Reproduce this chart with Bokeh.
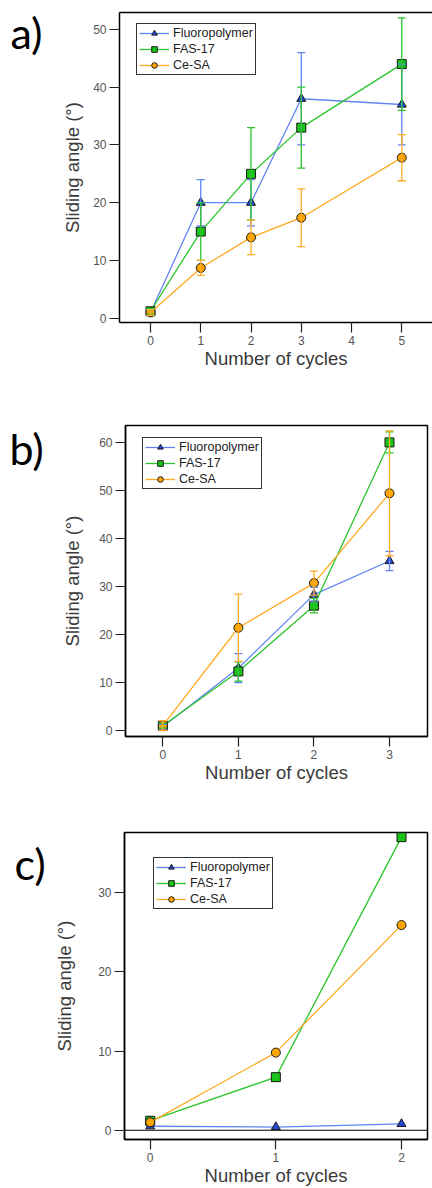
from bokeh.plotting import figure
from bokeh.models import (ColumnDataSource, Whisker, TeeHead, Legend, LegendItem,
                          FixedTicker, LinearAxis, Span, Range1d)
from bokeh.layouts import column, row
from bokeh.embed import file_html
from bokeh.resources import INLINE
from bokeh.core.properties import value

# ---------------- data ----------------
series_names = ["Fluoropolymer", "FAS-17", "Ce-SA"]
panel_tags = ["a)", "b)", "c)"]

a_cycles = [0, 1, 2, 3, 5]
a_fluoro = [1.0, 20.0, 20.0, 38.0, 37.0]
a_fluoro_err = [0.5, 4.0, 4.0, 8.0, 7.0]
a_fas = [1.2, 15.0, 25.0, 33.0, 44.0]
a_fas_err = [0.5, 5.0, 8.0, 7.0, 8.0]
a_cesa = [1.0, 8.7, 14.0, 17.4, 27.8]
a_cesa_err = [0.5, 1.3, 3.0, 5.0, 4.0]
a_xticks = [0, 1, 2, 3, 4, 5]
a_yticks = [0, 10, 20, 30, 40, 50]

b_cycles = [0, 1, 2, 3]
b_fluoro = [0.8, 13.0, 28.3, 35.3]
b_fluoro_err = [0.5, 3.0, 1.5, 2.0]
b_fas = [1.0, 12.3, 26.0, 60.0]
b_fas_err = [0.5, 2.0, 1.5, 2.2]
b_cesa = [1.0, 21.4, 30.7, 49.4]
b_cesa_err = [1.0, 7.0, 2.5, 13.0]
b_xticks = [0, 1, 2, 3]
b_yticks = [0, 10, 20, 30, 40, 50, 60]

c_cycles = [0, 1, 2]
c_fluoro = [0.5, 0.4, 0.8]
c_fas = [1.2, 6.7, 37.0]
c_cesa = [1.0, 9.8, 25.9]
c_xticks = [0, 1, 2]
c_yticks = [0, 10, 20, 30]

# ---------------- styles ----------------
LINE_COLORS = ["#6384f4", "#2cc52c", "#ffaa22"]
FILL_COLORS = ["#2448d0", "#19c419", "#ffa500"]
MARKERS = ["triangle", "square", "circle"]
MSIZES = [9, 9, 9]
AX_FONT = "Liberation Sans"
TAG_W = 50


def tag_figure(tag, height, mb_top, mb_bottom, page_top, page_bottom, tx, ty_page):
    # frame of this narrow figure coincides with the panel's frame (rows align frames);
    # its y range runs in page pixels, top to bottom
    t = figure(width=TAG_W, height=height, output_backend="svg", toolbar_location=None,
               x_range=Range1d(0, TAG_W), y_range=Range1d(page_bottom, page_top),
               min_border_left=0, min_border_right=0,
               min_border_top=mb_top, min_border_bottom=mb_bottom)
    t.axis.visible = False
    t.grid.visible = False
    t.outline_line_color = None
    t.background_fill_color = "white"
    t.border_fill_color = "white"
    t.text(x=[tx], y=[ty_page], text=[tag], text_font=value("Lato"), text_font_size="43px",
           text_color="black", text_baseline="middle", text_align="left")
    return t


def make_panel(xs, ys_list, errs_list, xticks, yticks, xr, yr,
               width, height, mb_left, mb_right, mb_top, mb_bottom,
               legend_loc, ylabel_standoff, outline=True, zero_line=False):
    p = figure(width=width, height=height, output_backend="svg",
               toolbar_location=None, x_range=Range1d(*xr), y_range=Range1d(*yr),
               min_border_left=mb_left, min_border_right=mb_right,
               min_border_top=mb_top, min_border_bottom=mb_bottom)
    p.grid.visible = False
    p.background_fill_color = "white"
    p.border_fill_color = "white"
    if outline:
        p.outline_line_color = "black"
        p.outline_line_width = 1.5
        p.outline_line_alpha = 1.0
    else:
        p.outline_line_color = None

    p.xaxis.ticker = FixedTicker(ticks=xticks)
    p.yaxis.ticker = FixedTicker(ticks=yticks)
    for ax in (p.xaxis[0], p.yaxis[0]):
        ax.axis_line_color = "black"
        ax.axis_line_width = 1.5
        ax.major_tick_line_color = "#222222"
        ax.major_tick_line_width = 1.2
        ax.major_tick_in = 0
        ax.major_tick_out = 10
        ax.minor_tick_line_color = None
        ax.major_label_text_font = AX_FONT
        ax.major_label_text_font_size = "12px"
        ax.major_label_text_color = "#555555"
        ax.major_label_standoff = 3
        ax.axis_label_text_font = AX_FONT
        ax.axis_label_text_font_size = "18.5px"
        ax.axis_label_text_font_style = "normal"
        ax.axis_label_text_color = "#3a3a3a"
    p.xaxis.axis_label = "Number of cycles"
    p.yaxis.axis_label = "Sliding angle (°)"
    p.xaxis.axis_label_standoff = 0
    p.yaxis.axis_label_standoff = ylabel_standoff

    if not outline:
        top = LinearAxis(ticker=FixedTicker(ticks=[]), axis_line_color="black",
                         axis_line_width=1.5, major_tick_out=0, major_tick_in=0,
                         minor_tick_line_color=None, major_label_text_font_size="0px")
        p.add_layout(top, "above")

    if zero_line:
        p.add_layout(Span(location=0, dimension="width", line_color="black",
                          line_width=1.2))

    items = []
    for i, name in enumerate(series_names):
        ys = ys_list[i]
        src = {"x": xs, "y": ys}
        if errs_list is not None:
            e = errs_list[i]
            src["upper"] = [v + d for v, d in zip(ys, e)]
            src["lower"] = [v - d for v, d in zip(ys, e)]
        source = ColumnDataSource(src)
        if errs_list is not None:
            w = Whisker(base="x", upper="upper", lower="lower", source=source,
                        line_color=LINE_COLORS[i], line_width=1.3, level="glyph",
                        upper_head=TeeHead(size=8, line_color=LINE_COLORS[i], line_width=1.3),
                        lower_head=TeeHead(size=8, line_color=LINE_COLORS[i], line_width=1.3))
            p.add_layout(w)
        lr = p.line("x", "y", source=source, line_color=LINE_COLORS[i], line_width=1.3)
        sr = p.scatter("x", "y", source=source, marker=MARKERS[i], size=MSIZES[i],
                       fill_color=FILL_COLORS[i], line_color="#1a1a1a", line_width=1)
        items.append(LegendItem(label=name, renderers=[lr, sr]))

    leg = Legend(items=items, location=legend_loc)
    leg.label_text_font = AX_FONT
    leg.label_text_font_size = "12.5px"
    leg.label_text_color = "#222222"
    leg.border_line_color = "#333333"
    leg.border_line_width = 1.5
    leg.border_line_alpha = 1.0
    leg.background_fill_color = "white"
    leg.background_fill_alpha = 1.0
    leg.padding = 2
    leg.spacing = 2
    leg.margin = 0
    leg.glyph_width = 30
    leg.glyph_height = 14
    leg.label_height = 14
    leg.label_standoff = 4
    p.add_layout(leg)
    return p


HA, HB, HC = 371, 414, 403

pa = make_panel(a_cycles, [a_fluoro, a_fas, a_cesa],
                [a_fluoro_err, a_fas_err, a_cesa_err], a_xticks, a_yticks,
                xr=(-0.617, 5.611), yr=(-0.742, 52.93),
                width=432 - TAG_W, height=HA, mb_left=119 - TAG_W, mb_right=0,
                mb_top=12, mb_bottom=48, legend_loc=(17, 247), ylabel_standoff=7,
                outline=False)

pb = make_panel(b_cycles, [b_fluoro, b_fas, b_cesa],
                [b_fluoro_err, b_fas_err, b_cesa_err], b_xticks, b_yticks,
                xr=(-0.494, 3.503), yr=(-1.246, 63.52),
                width=432 - TAG_W, height=HB, mb_left=125 - TAG_W, mb_right=5,
                mb_top=54, mb_bottom=48, legend_loc=(17, 247), ylabel_standoff=13)

pc = make_panel(c_cycles, [c_fluoro, c_fas, c_cesa], None,
                c_xticks, c_yticks,
                xr=(-0.2045, 2.207), yr=(-1.17, 37.59),
                width=432 - TAG_W, height=HC, mb_left=124 - TAG_W, mb_right=5,
                mb_top=47, mb_bottom=48, legend_loc=(29, 230), ylabel_standoff=20,
                zero_line=True)

ta = tag_figure(panel_tags[0], HA, 12, 48, 12, 323, 10, 31.7)
tb = tag_figure(panel_tags[1], HB, 54, 48, 425, 737, 9, 448.4)
tc = tag_figure(panel_tags[2], HC, 47, 48, 832, 1140, 14, 863.4)

layout = column(row(ta, pa), row(tb, pb), row(tc, pc))
open("out.html", "w").write(file_html(layout, INLINE))
